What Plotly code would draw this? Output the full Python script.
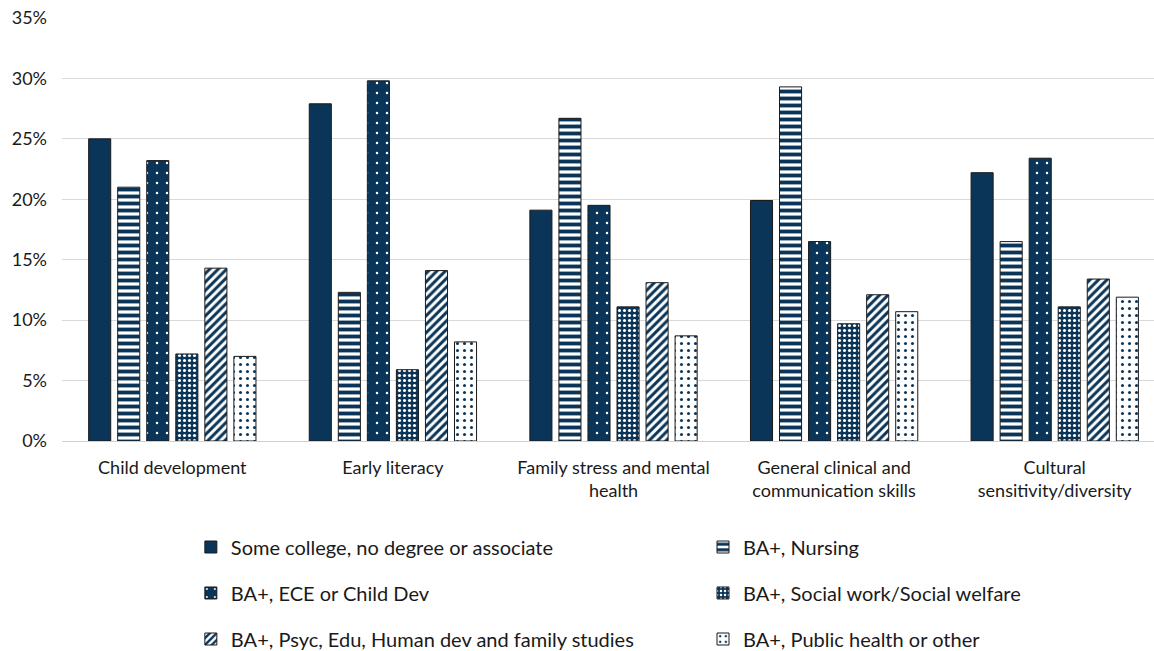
import plotly.graph_objects as go

categories = ["Child development", "Early literacy", "Family stress and mental<br>health",
              "General clinical and<br>communication skills", "Cultural<br>sensitivity/diversity"]

series_names = ["Some college, no degree or associate", "BA+, Nursing", "BA+, ECE or Child Dev",
                "BA+, Social work/Social welfare", "BA+, Psyc, Edu, Human dev and family studies",
                "BA+, Public health or other"]

some_college = [25.0, 27.9, 19.1, 19.9, 22.2]
nursing = [21.0, 12.3, 26.7, 29.3, 16.5]
ece = [23.2, 29.8, 19.5, 16.5, 23.4]
social_work = [7.2, 5.9, 11.1, 9.7, 11.1]
psyc = [14.3, 14.1, 13.1, 12.1, 13.4]
public_health = [7.0, 8.2, 8.7, 10.7, 11.9]

y_ticks = [0, 5, 10, 15, 20, 25, 30, 35]
y_tick_labels = ["0%", "5%", "10%", "15%", "20%", "25%", "30%", "35%"]

NAVY = "#0b3558"
values = [some_college, nursing, ece, social_work, psyc, public_health]
patterns = [
    dict(shape=""),
    dict(shape="-", fgcolor=NAVY, bgcolor="white", size=7, solidity=0.55, fillmode="replace"),
    dict(shape=".", fgcolor="white", bgcolor=NAVY, size=10, solidity=0.05, fillmode="replace"),
    dict(shape=".", fgcolor="white", bgcolor=NAVY, size=5, solidity=0.3, fillmode="replace"),
    dict(shape="/", fgcolor=NAVY, bgcolor="white", size=6, solidity=0.5, fillmode="replace"),
    dict(shape=".", fgcolor=NAVY, bgcolor="white", size=7, solidity=0.15, fillmode="replace"),
]
legend_ids = ["legend", "legend2", "legend3", "legend4", "legend5", "legend6"]
# legend placement (paper coords): two columns, three rows
legend_x = [0.118, 0.587, 0.118, 0.587, 0.118, 0.587]
legend_y = [-0.2506, -0.2506, -0.3593, -0.3593, -0.4681, -0.4681]

fig = go.Figure()
for name, vals, pat, lg in zip(series_names, values, patterns, legend_ids):
    fig.add_trace(go.Bar(
        x=categories, y=vals, name=name,
        marker=dict(color=NAVY, line=dict(color="#1a1a1a", width=1), pattern=pat),
        legend=lg,
    ))

legend_layout = {}
for lg, lx, ly in zip(legend_ids, legend_x, legend_y):
    legend_layout[lg] = dict(orientation="h", xanchor="left", x=lx, y=ly, yanchor="middle",
                             font=dict(family="Lato", size=20, color="#1a1a1a"),
                             bgcolor="rgba(0,0,0,0)", visible=True)

fig.update_layout(
    width=1154, height=651,
    showlegend=True,
    margin=dict(l=62, r=0, t=18, b=210, autoexpand=False),
    paper_bgcolor="white", plot_bgcolor="white",
    barmode="group", bargap=0.21, bargroupgap=0.24,
    font=dict(family="Lato", size=16, color="#1a1a1a"),
    xaxis=dict(range=[-0.5, 4.45], showline=True, linecolor="#d0d0d0", linewidth=1,
               tickfont=dict(family="Lato", size=18, color="#1a1a1a"), ticks="",
               ticklabelstandoff=10),
    yaxis=dict(range=[0, 35], tickvals=y_ticks, ticktext=y_tick_labels, showgrid=True,
               gridcolor="#d9d9d9", gridwidth=1, zeroline=False, ticks="",
               ticklabelstandoff=14,
               tickfont=dict(family="Lato", size=18, color="#1a1a1a")),
    **legend_layout,
)

fig.write_html("out.html")
